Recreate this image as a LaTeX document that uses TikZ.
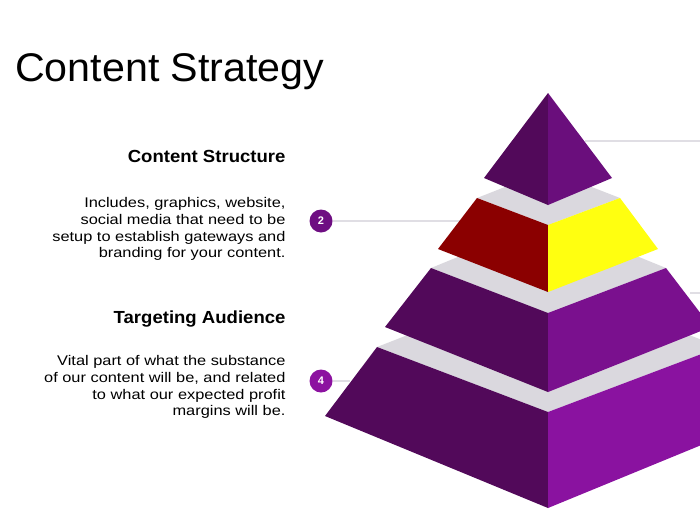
\documentclass[tikz,border=0pt]{standalone}
\usepackage{fontspec}
\setmainfont{Liberation Sans}
\newfontfamily\bodyf[FakeStretch=1.17]{Liberation Sans}
\newfontfamily\headf[FakeStretch=1.06]{Liberation Sans}
\newfontfamily\titlef[FakeStretch=1.03]{Liberation Sans}
\begin{document}
\begin{tikzpicture}[x=1pt,y=-1pt,
  dk/.style={fill={rgb,255:red,82;green,9;blue,90}},
  gr/.style={fill={rgb,255:red,218;green,216;blue,222}},
  lnk/.style={draw={rgb,255:red,224;green,222;blue,228},line width=1.2pt},
  num/.style={circle,fill={rgb,255:red,110;green,14;blue,130},text=white,inner sep=0pt,minimum size=23pt,font=\bfseries\fontsize{11}{11}\selectfont},
  head/.style={anchor=east,font=\headf\bfseries\fontsize{17.5}{20}\selectfont},
  body/.style={anchor=north east,align=right,font=\bodyf\fontsize{14}{16.7}\selectfont}]
\useasboundingbox (0,0) rectangle (700,525);
\clip (0,0) rectangle (700,525);
% connectors (behind)
\coordinate (t1) at (585,141); \coordinate (t1e) at (700,141);
\coordinate (t2) at (470,221); \coordinate (t4) at (350,381);
\coordinate (t3) at (690,293); \coordinate (t3e) at (700,293);
\draw[lnk] (t1) -- (t1e);
\draw[lnk] (t3) -- (t3e);
\node[num] (n2) at (321,221) {2};
\node[num,fill={rgb,255:red,140;green,18;blue,160}] (n4) at (321,381) {4};
\draw[lnk] (n2) -- (t2);
\draw[lnk] (n4) -- (t4);
% tier 4
\fill[gr] (377,347) -- (548,280) -- (720,347) -- (548,412) -- cycle;
\fill[dk] (377,347) -- (548,412) -- (548,508) -- (325,416) -- cycle;
\fill[fill={rgb,255:red,138;green,18;blue,160}] (548,412) -- (720,347) -- (772,416) -- (548,508) -- cycle;
% tier 3
\fill[gr] (431,268) -- (548,220) -- (666,268) -- (548,313) -- cycle;
\fill[dk] (431,268) -- (548,313) -- (548,392) -- (385,327) -- cycle;
\fill[fill={rgb,255:red,122;green,16;blue,142}] (548,313) -- (666,268) -- (711,327) -- (548,392) -- cycle;
% tier 2
\fill[gr] (477,198) -- (548,170) -- (620,198) -- (548,225) -- cycle;
\fill[fill={rgb,255:red,139;green,0;blue,0}] (477,198) -- (548,225) -- (548,292) -- (438,249) -- cycle;
\fill[fill={rgb,255:red,255;green,255;blue,16}] (548,225) -- (620,198) -- (658,249) -- (548,292) -- cycle;
% tier 1
\fill[dk] (548,93) -- (548,205) -- (484,178) -- cycle;
\fill[fill={rgb,255:red,106;green,14;blue,124}] (548,93) -- (612,178) -- (548,205) -- cycle;
% texts
\node[anchor=base west,inner sep=0pt,font=\titlef\fontsize{40}{40}\selectfont] (title) at (15,81) {Content Strategy};
\node[head] (h1) at (289,156) {Content Structure};
\node[body] (b1) at (289,194) {Includes, graphics, website,\\social media that need to be\\setup to establish gateways and\\branding for your content.};
\node[head] (h2) at (289,319) {Targeting Audience};
\node[body] (b2) at (289,352) {Vital part of what the substance\\of our content will be, and related\\to what our expected profit\\margins will be.};
\end{tikzpicture}
\end{document}
